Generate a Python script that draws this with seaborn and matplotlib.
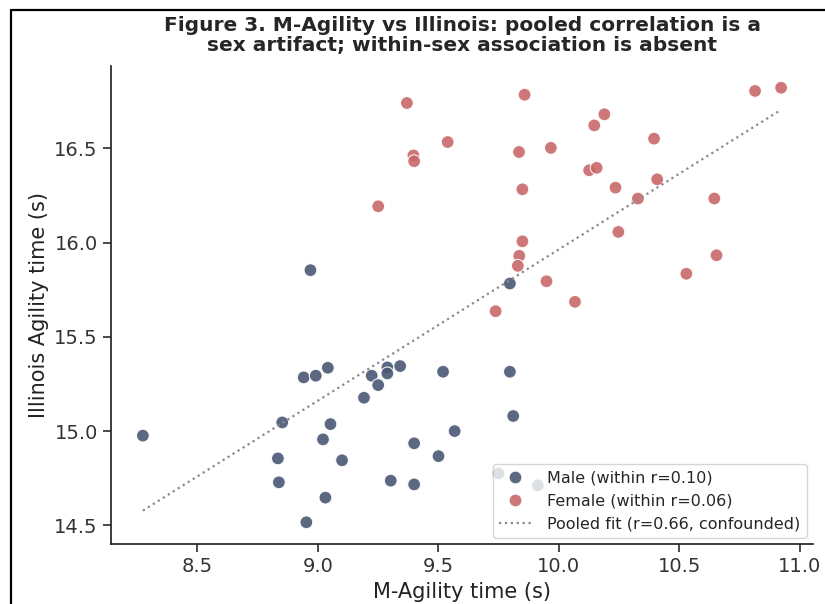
import numpy as np
import pandas as pd
import matplotlib
matplotlib.use("Agg")
import matplotlib.pyplot as plt
from matplotlib.lines import Line2D
import seaborn as sns

# --- data (seconds) ---
male_magility = [8.970, 9.797, 8.942, 8.992, 9.042, 9.224, 9.289, 9.289, 9.342, 9.520,
                 9.797, 9.251, 9.192, 8.853, 9.053, 9.568, 8.275, 9.022, 9.400, 9.811,
                 9.501, 8.835, 9.101, 8.839, 9.303, 9.400, 9.032, 8.953, 9.750, 9.913]
male_illinois = [15.854, 15.783, 15.285, 15.294, 15.336, 15.294, 15.338, 15.306, 15.345, 15.315,
                 15.315, 15.244, 15.177, 15.046, 15.037, 15.000, 14.976, 14.956, 14.935, 15.080,
                 14.867, 14.855, 14.845, 14.728, 14.737, 14.717, 14.647, 14.516, 14.776, 14.712]

female_magility = [9.370, 9.539, 9.397, 9.400, 9.251, 9.858, 10.189, 10.147, 10.395, 9.835,
                   9.967, 10.126, 10.157, 10.408, 10.235, 9.849, 10.328, 10.645, 10.247, 9.849,
                   10.654, 9.836, 9.830, 10.529, 9.949, 10.067, 9.738, 10.814, 10.922]
female_illinois = [16.741, 16.534, 16.463, 16.432, 16.193, 16.785, 16.681, 16.622, 16.552, 16.481,
                   16.503, 16.384, 16.397, 16.336, 16.292, 16.283, 16.234, 16.234, 16.057, 16.007,
                   15.933, 15.930, 15.877, 15.835, 15.795, 15.686, 15.636, 16.805, 16.822]

MALE_LABEL = "Male (within r=0.10)"
FEMALE_LABEL = "Female (within r=0.06)"
FIT_LABEL = "Pooled fit (r=0.66, confounded)"

df = pd.DataFrame({
    "magility": male_magility + female_magility,
    "illinois": male_illinois + female_illinois,
    "group": [MALE_LABEL] * len(male_magility) + [FEMALE_LABEL] * len(female_magility),
})

sns.set_theme(style="ticks")
plt.rcParams["font.family"] = ["DejaVu Sans"]

fig, ax = plt.subplots(figsize=(8.25, 6.04), dpi=100)
fig.subplots_adjust(left=0.1345, right=0.9855, bottom=0.0993, top=0.8907)

palette = {MALE_LABEL: "#4A5875", FEMALE_LABEL: "#C8686B"}
sns.scatterplot(
    data=df, x="magility", y="illinois", hue="group", palette=palette,
    s=85, alpha=0.9, edgecolor="white", linewidth=0.8, ax=ax
)

# pooled OLS fit across both sexes
slope, intercept = np.polyfit(df["magility"], df["illinois"], 1)
xs = np.array([df["magility"].min(), df["magility"].max()])
ax.plot(xs, intercept + slope * xs, linestyle=":", color="#8a8a8a", linewidth=1.6, label=FIT_LABEL)

ax.set_xlabel("M-Agility time (s)", fontsize=15, color="#222222")
ax.set_ylabel("Illinois Agility time (s)", fontsize=15, color="#222222")
ax.set_title("Figure 3. M-Agility vs Illinois: pooled correlation is a\nsex artifact; within-sex association is absent",
             fontsize=14.5, fontweight="bold", pad=11, linespacing=1.05)
ax.set_xticks([8.5, 9.0, 9.5, 10.0, 10.5, 11.0])
ax.set_yticks([14.5, 15.0, 15.5, 16.0, 16.5])
ax.tick_params(labelsize=14, colors="#333333")
ax.legend(loc="lower right", fontsize=11.5, frameon=True, handletextpad=1.0,
          borderaxespad=0.4)
sns.despine(ax=ax)

# black frame on the top and left of the original screenshot
fig.add_artist(Line2D([11 / 825, 1.0], [1 - 10 / 604, 1 - 10 / 604], color="black", linewidth=1.6))
fig.add_artist(Line2D([11 / 825, 11 / 825], [0.0, 1 - 10 / 604], color="black", linewidth=1.6))

fig.savefig("out.png", dpi=100)
